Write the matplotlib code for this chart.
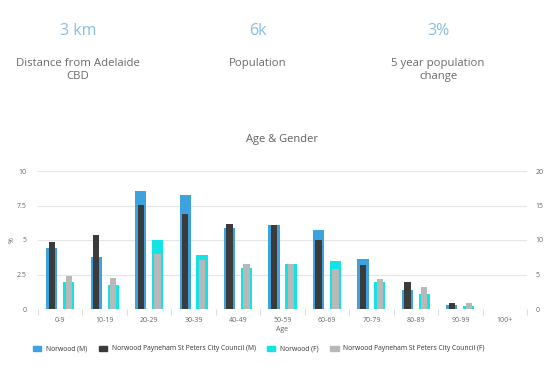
import matplotlib
matplotlib.use("Agg")
import matplotlib.pyplot as plt
import numpy as np
from matplotlib.patches import Patch

plt.rcParams['font.family'] = ['Open Sans', 'DejaVu Sans']

categories = ["0-9", "10-19", "20-29", "30-39", "40-49", "50-59", "60-69", "70-79", "80-89", "90-99", "100+"]
norwood_m = [4.4, 3.8, 8.55, 8.25, 5.85, 6.1, 5.75, 3.6, 1.35, 0.27, 0]
council_m = [4.87, 5.33, 7.57, 6.87, 6.14, 6.07, 4.99, 3.18, 1.95, 0.46, 0]
norwood_f = [1.98, 1.71, 4.99, 3.93, 2.99, 3.25, 3.49, 1.95, 1.08, 0.24, 0]
council_f = [2.39, 2.22, 4.02, 3.54, 3.25, 3.25, 2.87, 2.17, 1.57, 0.46, 0]

stats_values = ["3 km", "6k", "3%"]
stats_labels = ["Distance from Adelaide\nCBD", "Population", "5 year population\nchange"]

c_blue = "#3da2de"
c_dark = "#3b3b3b"
c_cyan = "#12e4e6"
c_grey = "#b8b8b8"

fig = plt.figure(figsize=(5.54, 3.69), dpi=100)

xs = [78 / 554, 258 / 554, 438 / 554]
for x, v, l in zip(xs, stats_values, stats_labels):
    fig.text(x, 1 - 31 / 369, v, ha="center", va="center", fontsize=11.5, color="#86bfe5")
    fig.text(x, 1 - 58 / 369, l, ha="center", va="top", fontsize=8.2, color="#6a6a6a",
             linespacing=1.3)

ax = fig.add_axes([38 / 554, 1 - 309 / 369, (527 - 38) / 554, (309 - 171) / 369])
x = np.arange(len(categories))
off = 0.19
wide = 0.25
narrow = 0.14
ax.bar(x - off, norwood_m, wide, color=c_blue, zorder=2)
ax.bar(x - off, council_m, narrow, color=c_dark, zorder=3)
ax.bar(x + off, norwood_f, wide, color=c_cyan, zorder=2)
ax.bar(x + off, council_f, narrow, color=c_grey, zorder=3)

ax.set_xlim(-0.5, len(categories) - 0.5)
ax.set_ylim(0, 10)
ax.set_yticks([0, 2.5, 5, 7.5, 10])
ax.set_yticklabels(["0", "2.5", "5", "7.5", "10"])
ax.set_xticks(x)
ax.set_xticklabels(categories)
ax.set_xticks(np.arange(len(categories) + 1) - 0.5, minor=True)
ax.tick_params(axis="x", which="major", length=0, labelsize=5, colors="#666666", pad=6)
ax.tick_params(axis="x", which="minor", length=4, color="#dddddd", width=0.8)
ax.tick_params(axis="y", length=0, labelsize=5, colors="#666666", pad=8)
ax.grid(axis="y", color="#e5e5e5", linewidth=0.8, zorder=0)
for s in ax.spines.values():
    s.set_visible(False)
ax.axhline(0, color="#dddddd", linewidth=0.8, zorder=1)
ax.set_xlabel("Age", fontsize=5, color="#666666", labelpad=1)
ax.set_ylabel("%", fontsize=5, color="#666666")
ax.yaxis.set_label_coords(-0.045, 0.5)
ax.set_title("Age & Gender", fontsize=8, color="#606060", pad=21)

ax2 = ax.twinx()
ax2.set_ylim(0, 20)
ax2.set_yticks([0, 5, 10, 15, 20])
ax2.tick_params(axis="y", length=0, labelsize=5, colors="#666666", pad=6)
for s in ax2.spines.values():
    s.set_visible(False)

handles = [Patch(color=c_blue, label="Norwood (M)"),
           Patch(color=c_dark, label="Norwood Payneham St Peters City Council (M)"),
           Patch(color=c_cyan, label="Norwood (F)"),
           Patch(color=c_grey, label="Norwood Payneham St Peters City Council (F)")]
leg = fig.legend(handles=handles, loc="center left", bbox_to_anchor=(27 / 554, 1 - 349 / 369), ncol=4,
                 frameon=False, fontsize=4.9, handlelength=1.2, handleheight=0.8, columnspacing=1.7,
                 handletextpad=0.7)
for t in leg.get_texts():
    t.set_color("#333333")

fig.savefig("out.png", dpi=100)
